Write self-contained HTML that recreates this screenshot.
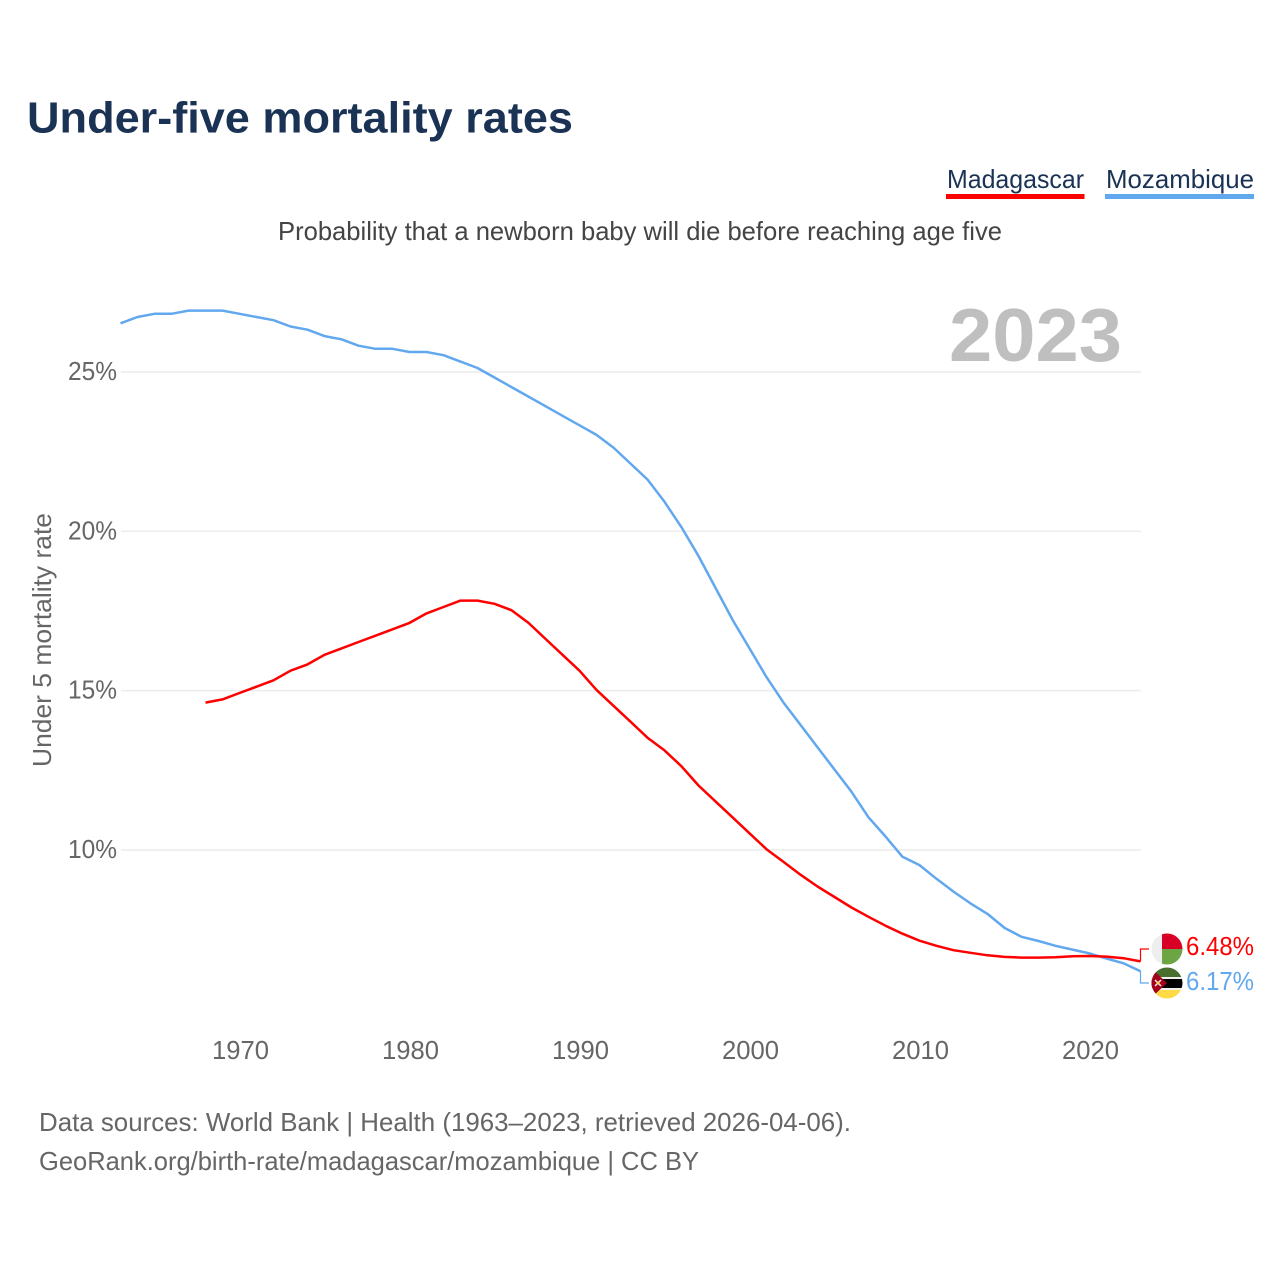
<!DOCTYPE html>
<html lang="en">
<head>
<meta charset="utf-8">
<title>Under-five mortality rates</title>
<style>
html,body{margin:0;padding:0;background:#fff;}
svg{display:block;}
text{font-family:"Liberation Sans",sans-serif;}
</style>
</head>
<body>
<svg id="chart" xmlns="http://www.w3.org/2000/svg" width="1280" height="1280" viewBox="0 0 1280 1280">
  <rect x="0" y="0" width="1280" height="1280" fill="#fff"/>
  <text x="27" y="132.500" font-size="44" font-weight="700" fill="#1a3254" textLength="546" lengthAdjust="spacingAndGlyphs">Under-five mortality rates</text>
  <g>
    <text x="947" y="188" font-size="26" fill="#1a3254" textLength="137" lengthAdjust="spacingAndGlyphs">Madagascar</text>
    <rect x="946" y="194" width="138.500" height="5" fill="#ff0000"/>
  </g>
  <g>
    <text x="1106" y="188" font-size="26" fill="#1a3254" textLength="148" lengthAdjust="spacingAndGlyphs">Mozambique</text>
    <rect x="1105" y="194" width="149" height="5" fill="#62a8ee"/>
  </g>
  <text x="278" y="240" font-size="26" fill="#444" textLength="724" lengthAdjust="spacingAndGlyphs">Probability that a newborn baby will die before reaching age five</text>
  <g id="grid"></g>
  <text x="1122" y="361" text-anchor="end" font-size="75" font-weight="700" fill="#bfbfbf" textLength="173" lengthAdjust="spacingAndGlyphs">2023</text>
  <text transform="translate(51,767) rotate(-90)" x="0" y="0" font-size="26" fill="#666" textLength="254" lengthAdjust="spacingAndGlyphs">Under 5 mortality rate</text>
  <g id="yticks"></g>
  <g id="xticks"></g>
  <g id="series"></g>
  <g id="end-labels"></g>
  <g>
    <clipPath id="clip-mg"><circle cx="1167" cy="949" r="15.500"/></clipPath>
    <g clip-path="url(#clip-mg)">
      <rect x="1151" y="933" width="11" height="32" fill="#eeeeee"/>
      <rect x="1162" y="933" width="21" height="16" fill="#d80027"/>
      <rect x="1162" y="949" width="21" height="16" fill="#6da544"/>
    </g>
  </g>
  <g>
    <clipPath id="clip-mz"><circle cx="1167" cy="983" r="15.500"/></clipPath>
    <g clip-path="url(#clip-mz)">
      <rect x="1151" y="967" width="32" height="10" fill="#496e2d"/>
      <rect x="1151" y="977" width="32" height="2" fill="#f0f0f0"/>
      <rect x="1151" y="979" width="32" height="9" fill="#000"/>
      <rect x="1151" y="988" width="32" height="2" fill="#f0f0f0"/>
      <rect x="1151" y="990" width="32" height="10" fill="#ffda44"/>
      <polygon points="1151,968 1167,983 1151,998" fill="#a2001d"/>
      <path d="M1155 980 L1161 986 M1161 980 L1155 986" stroke="#f0f0f0" stroke-width="1.500"/>
      <circle cx="1158" cy="983" r="1.500" fill="#ffda44"/>
    </g>
  </g>
  <text x="39" y="1131" font-size="26" fill="#666" textLength="812" lengthAdjust="spacingAndGlyphs">Data sources: World Bank | Health (1963–2023, retrieved 2026-04-06).</text>
  <text x="39" y="1170" font-size="26" fill="#666" textLength="660" lengthAdjust="spacingAndGlyphs">GeoRank.org/birth-rate/madagascar/mozambique | CC BY</text>
</svg>
<script>
const yTickValues = [10, 15, 20, 25];
const yTickLabels = ["10%", "15%", "20%", "25%"];
const xTickYears = [1970, 1980, 1990, 2000, 2010, 2020];
const xTickLabels = ["1970", "1980", "1990", "2000", "2010", "2020"];

const mozambiqueStartYear = 1963;
const mozambiqueValues = [26.5,26.7,26.8,26.8,26.9,26.9,26.9,26.8,26.7,26.6,26.4,26.3,26.1,26.0,25.8,25.7,25.7,25.6,25.6,25.5,25.3,25.1,24.8,24.5,24.2,23.9,23.6,23.3,23.0,22.6,22.1,21.6,20.9,20.1,19.2,18.2,17.2,16.3,15.4,14.6,13.9,13.2,12.5,11.8,11.0,10.4,9.76,9.5,9.07,8.67,8.3,7.97,7.53,7.25,7.12,6.97,6.85,6.73,6.57,6.42,6.17];
const madagascarStartYear = 1968;
const madagascarValues = [14.6,14.7,14.9,15.1,15.3,15.6,15.8,16.1,16.3,16.5,16.7,16.9,17.1,17.4,17.6,17.8,17.8,17.7,17.5,17.1,16.6,16.1,15.6,15.0,14.5,14.0,13.5,13.1,12.6,12.0,11.5,11.0,10.5,10.0,9.6,9.2,8.83,8.5,8.17,7.88,7.6,7.35,7.13,6.97,6.83,6.75,6.67,6.62,6.6,6.6,6.61,6.64,6.65,6.63,6.58,6.48];

const NS = "http://www.w3.org/2000/svg";
function xScale(year){ return 120.5 + (year - 1963) * 17; }
function yScale(v){ return 850 - (v - 10) * 31.87; }
function make(tag, attrs, parent){
  const el = document.createElementNS(NS, tag);
  for (const k in attrs) el.setAttribute(k, attrs[k]);
  parent.appendChild(el);
  return el;
}

const grid = document.getElementById("grid");
const yticks = document.getElementById("yticks");
yTickValues.forEach(function(v, i){
  const line = make("line", {x1:121, x2:1141, y1:yScale(v), y2:yScale(v), stroke:"#ececec", "stroke-width":1.5}, grid);
  
  
  const t = make("text", {x:117, y:yScale(v)+8, "text-anchor":"end", "font-size":26, fill:"#666", textLength:49, lengthAdjust:"spacingAndGlyphs"}, yticks);
  
  
  t.textContent = yTickLabels[i];
});

const xticks = document.getElementById("xticks");
xTickYears.forEach(function(yr, i){
  const t = make("text", {x:xScale(yr)+1, y:1059, "text-anchor":"middle", "font-size":26, fill:"#666", textLength:57, lengthAdjust:"spacingAndGlyphs"}, xticks);
  
  
  t.textContent = xTickLabels[i];
});

function pathFor(values, startYear){
  return values.map(function(v, i){
    return (i ? "L" : "M") + xScale(startYear + i).toFixed(1) + " " + (yScale(v) - 0.8).toFixed(1);
  }).join(" ");
}
const series = document.getElementById("series");
const mozLine = make("path", {d:pathFor(mozambiqueValues, mozambiqueStartYear), fill:"none", stroke:"#62a8ee", "stroke-width":2.5, "stroke-linejoin":"round"}, series);


const madLine = make("path", {d:pathFor(madagascarValues, madagascarStartYear), fill:"none", stroke:"#ff0000", "stroke-width":2.5, "stroke-linejoin":"round"}, series);



const labels = document.getElementById("end-labels");
const lastMad = madagascarValues[madagascarValues.length - 1];
const lastMoz = mozambiqueValues[mozambiqueValues.length - 1];
const endX = xScale(2023);
const madConn = make("path", {d:"M"+endX+" "+(yScale(lastMad) - 0.8).toFixed(1)+" V949 H1149", fill:"none", stroke:"#ff0000", "stroke-width":1.2}, labels);


const mozConn = make("path", {d:"M"+endX+" "+(yScale(lastMoz) - 0.8).toFixed(1)+" V983 H1149", fill:"none", stroke:"#62a8ee", "stroke-width":1.2}, labels);


const madLabel = make("text", {x:1186, y:955, "font-size":26, fill:"#ff0000", textLength:68, lengthAdjust:"spacingAndGlyphs"}, labels);


madLabel.textContent = lastMad.toFixed(2) + "%";
const mozLabel = make("text", {x:1186, y:990, "font-size":26, fill:"#62a8ee", textLength:68, lengthAdjust:"spacingAndGlyphs"}, labels);


mozLabel.textContent = lastMoz.toFixed(2) + "%";
</script>
</body>
</html>
